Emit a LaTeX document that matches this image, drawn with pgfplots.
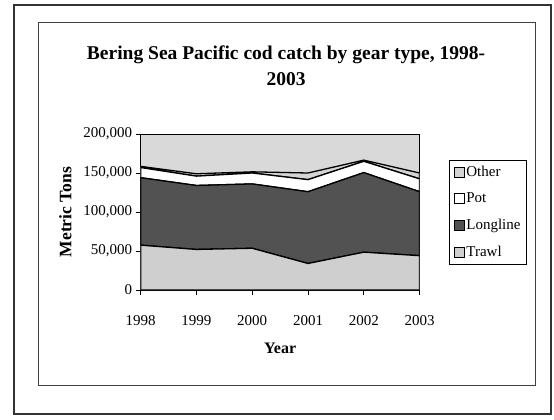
\documentclass[border=0pt]{standalone}
\usepackage{fontspec}
\setmainfont{Liberation Serif}
\usepackage{pgfplots}
\pgfplotsset{compat=1.18}
\definecolor{bglight}{gray}{0.85}
\definecolor{trawlc}{gray}{0.81}
\definecolor{longc}{gray}{0.32}
\definecolor{otherc}{gray}{0.83}
\begin{document}
\begin{tikzpicture}[x=1pt,y=1pt]
\path[use as bounding box] (0,0) rectangle (554,-420);
\fill[white] (0,0) rectangle (554,-420);
\draw[line width=1.3pt, black!80] (14,-5) rectangle (551,-414);
\draw[line width=1pt, black!75] (38,-22.7) rectangle (535,-385);
\node[font=\bfseries\fontsize{19.5}{26}\selectfont, align=center] at (286,-66) {Bering Sea Pacific cod catch by gear type, 1998-\\2003};
\begin{axis}[
  at={(140.6pt,-290pt)}, anchor=south west,
  scale only axis, width=279pt, height=156pt,
  xmin=1998, xmax=2003, ymin=0, ymax=200000,
  stack plots=y,
  axis background/.style={fill=bglight},
  xtick={1998,1999,2000,2001,2002,2003},
  xticklabels={1998,1999,2000,2001,2002,2003},
  ytick={0,50000,100000,150000,200000},
  yticklabels={0,{50,000},{100,000},{150,000},{200,000}},
  scaled ticks=false,
  tick label style={font=\fontsize{15}{17}\selectfont},
  xticklabel style={yshift=-17pt},
  tick align=outside, major tick length=5pt,
  xtick pos=lower, ytick pos=left,
  axis line style={line width=1pt},
  every tick/.style={black, line width=0.8pt},
  xlabel={Year}, ylabel={Metric Tons},
  xlabel style={font=\bfseries\fontsize{16}{18}\selectfont, at={(axis description cs:0.5,-0.372)}, anchor=center},
  ylabel style={font=\bfseries\fontsize{17.5}{20}\selectfont, at={(axis description cs:-0.27,0.5)}, anchor=center},
  legend style={at={(1.106,0.5)}, anchor=west, draw=black, line width=0.8pt,
    font=\fontsize{15}{17}\selectfont, row sep=11pt, inner sep=4pt,
    legend cell align=left},
  reverse legend,
  legend image code/.code={\draw[#1, line width=0.8pt, draw=black] (0pt,-5pt) rectangle (10pt,5pt);},
]
\addplot[fill=trawlc, draw=black, line width=1.3pt] coordinates {(1998,57500) (1999,52000) (2000,53500) (2001,34000) (2002,48500) (2003,44000)} \closedcycle;
\addlegendentry{Trawl}
\addplot[fill=longc, draw=black, line width=1.3pt] coordinates {(1998,86500) (1999,82000) (2000,82500) (2001,92000) (2002,102000) (2003,82000)} \closedcycle;
\addlegendentry{Longline}
\addplot[fill=white, draw=black, line width=1.3pt] coordinates {(1998,13000) (1999,12000) (2000,14000) (2001,15500) (2002,14500) (2003,16500)} \closedcycle;
\addlegendentry{Pot}
\addplot[fill=otherc, draw=black, line width=1.3pt] coordinates {(1998,1500) (1999,3000) (2000,1500) (2001,8500) (2002,1500) (2003,7500)} \closedcycle;
\addlegendentry{Other}
\end{axis}
\end{tikzpicture}
\end{document}
